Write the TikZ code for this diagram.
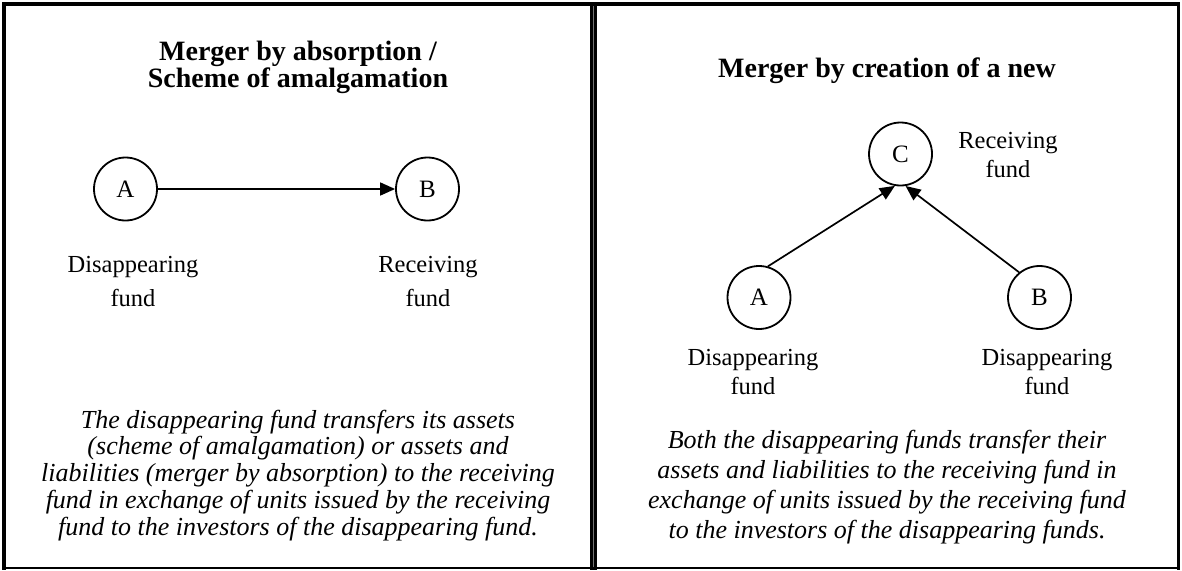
\documentclass[tikz,border=0pt]{standalone}
\usepackage{fontspec}
\setmainfont{Liberation Serif}
\usetikzlibrary{arrows.meta}
\begin{document}
\begin{tikzpicture}[x=1pt,y=-1pt,
  fund/.style={circle,draw,line width=1.8pt,minimum size=63pt,inner sep=0pt,
    font=\fontsize{25}{28}\selectfont},
  lbl/.style={align=center,anchor=base,inner sep=0pt,font=\fontsize{24.5}{29}\selectfont},
  ttl/.style={align=center,anchor=base,inner sep=0pt,font=\fontsize{28}{25.5}\selectfont\bfseries},
  note/.style={align=center,anchor=base,inner sep=0pt,font=\fontsize{26}{26.7}\selectfont\itshape},
  flow/.style={line width=1.7pt,-{Triangle[length=15pt,width=13pt]}}]
\useasboundingbox (0,0) rectangle (1182,570);
% frame
\fill (2,2) rectangle (1179.5,6);
\fill (2,2) rectangle (6,569.5);
\fill (1177,2) rectangle (1179.5,569.5);
\fill (2,566.8) rectangle (1179.5,569.3);
% double rule between the two panels
\fill (590,2) rectangle (597,569.5);
\fill[black!55] (593,6) rectangle (594,566.8);

% left panel (multi-line nodes are anchored at the baseline of their last line)
\node[ttl] (lt) at (298,87) {Merger by absorption /\\Scheme of amalgamation};
\node[fund] (la) at (125.5,189) {A};
\node[fund] (lb) at (427.5,189) {B};
\draw[flow] (la) -- (lb);
\node[lbl,font=\fontsize{24.5}{34}\selectfont] (lad) at (133,306) {Disappearing\\fund};
\node[lbl,font=\fontsize{24.5}{34}\selectfont] (lbr) at (428,306) {Receiving\\fund};
\node[note] (ln) at (298,535) {The disappearing fund transfers its assets\\(scheme of amalgamation) or assets and\\liabilities (merger by absorption) to the receiving\\fund in exchange of units issued by the receiving\\fund to the investors of the disappearing fund.};

% right panel
\node[ttl] (rt) at (887,77) {Merger by creation of a new};
\node[fund] (rc) at (900.5,154) {C};
\node[fund] (ra) at (759,297.5) {A};
\node[fund] (rb) at (1039.5,297.5) {B};
\node[lbl] (rcr) at (1008,177) {Receiving\\fund};
\draw[flow] (ra.74) -- (rc.260);
\draw[flow] (rb.129) -- (rc.279);
\node[lbl] (rad) at (753,394) {Disappearing\\fund};
\node[lbl] (rbd) at (1047,394) {Disappearing\\fund};
\node[note,font=\fontsize{26}{30}\selectfont\itshape] (rn) at (887,538) {Both the disappearing funds transfer their\\assets and liabilities to the receiving fund in\\exchange of units issued by the receiving fund\\to the investors of the disappearing funds.};
\end{tikzpicture}
\end{document}
